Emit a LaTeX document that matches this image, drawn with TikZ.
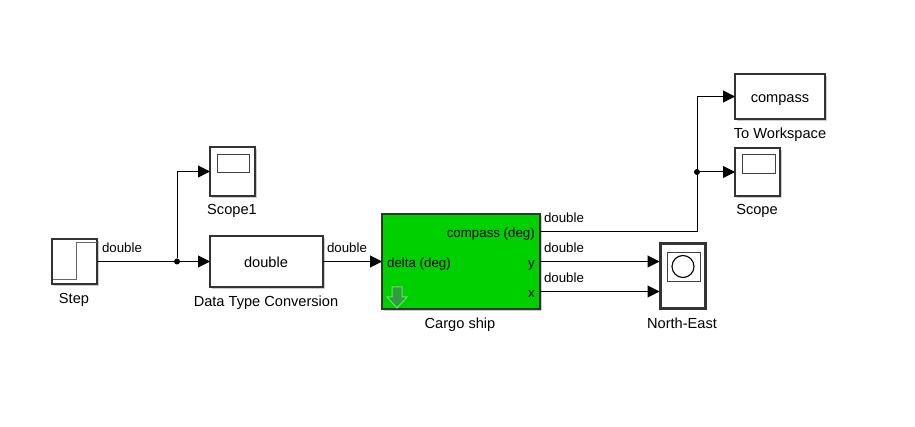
\documentclass[tikz,border=0pt]{standalone}
\usepackage{fontspec}
\setmainfont{Liberation Sans}
\usetikzlibrary{arrows.meta,shadows}
\definecolor{shipgreen}{HTML}{00D000}
\definecolor{downgreen}{HTML}{2F9E40}
\tikzset{
  block/.style={draw=black!80, line width=1.2pt, fill=white, inner sep=0pt, outer sep=0pt,
    drop shadow={shadow xshift=1.6pt, shadow yshift=-1.6pt, fill=black!40}},
  lbl/.style={font=\fontsize{14.6}{16}\selectfont, inner sep=0pt, anchor=base, yshift=-.7pt},
  txt/.style={font=\fontsize{13.3}{15}\selectfont, inner sep=0pt, anchor=base, yshift=-.7pt},
  sig/.style={line width=1pt, -{Triangle[length=12pt,width=12pt]}},
  wire/.style={line width=1pt},
  dot/.style={circle, fill=black, inner sep=0pt, minimum size=6pt},
}
\begin{document}
\begin{tikzpicture}[x=1pt,y=-1pt]
  \useasboundingbox (0,0) rectangle (915,427);
  % blocks
  \node[block, minimum width=45pt, minimum height=45pt] (stepblk) at (74.5,261.5) {};
  \node[block, minimum width=45pt, minimum height=49pt] (scopeone) at (232.5,171.5) {};
  \node[block, minimum width=113pt, minimum height=51pt] (dtc) at (266.5,261.5) {};
  \node[block, fill=shipgreen, minimum width=158pt, minimum height=95pt] (ship) at (461,261.5) {};
  \node[block, minimum width=90pt, minimum height=45pt] (towork) at (780,96.5) {};
  \node[block, minimum width=45pt, minimum height=48pt] (scopetwo) at (757.5,172) {};
  \node[block, line width=2.6pt, minimum width=45pt, minimum height=65pt] (northeast) at (683,276) {};
  % icons
  \draw[line width=1pt, black!60] (53,280) -- (76,280) -- (76,243) -- (97,243);
  \node[draw=black!75, line width=.8pt, minimum width=32pt, minimum height=18pt, inner sep=0pt] (scopeonescr) at (233,163) {};
  \node[draw=black!75, line width=.8pt, minimum width=33pt, minimum height=19pt, inner sep=0pt] (scopetwoscr) at (758.5,163.5) {};
  \node[draw=black!75, line width=.8pt, minimum width=33pt, minimum height=29pt, inner sep=0pt] (northeastscr) at (683.5,266.5) {};
  \node[draw=black, line width=1.1pt, circle, minimum size=22pt, inner sep=0pt] (northeastdial) at (683,266.5) {};
  \draw[draw=shipgreen!60!white, line width=1pt, fill=downgreen]
    (392,287) -- (402,287) -- (402,297) -- (407,297) -- (397,308) -- (387,297) -- (392,297) -- cycle;
  % texts
  \node[lbl] (dtctxt) at (266,267) {double};
  \node[lbl] (toworktxt) at (780,102) {compass};
  \node[txt, anchor=base east] (compasstxt) at (535,237) {compass (deg)};
  \node[txt, anchor=base west] (deltatxt) at (387,267) {delta (deg)};
  \node[txt, anchor=base east] (ytxt) at (535,267) {y};
  \node[txt, anchor=base east] (xtxt) at (535,297) {x};
  \node[lbl] (steplbl) at (74,303) {Step};
  \node[lbl] (scopeonelbl) at (232,214) {Scope1};
  \node[lbl] (dtclbl) at (266,306) {Data Type Conversion};
  \node[lbl] (shiplbl) at (460,328) {Cargo ship};
  \node[lbl] (toworklbl) at (780,138) {To Workspace};
  \node[lbl] (scopetwolbl) at (757,214) {Scope};
  \node[lbl] (northeastlbl) at (682,328) {North-East};
  \node[txt] (dbla) at (122,252) {double};
  \node[txt] (dblb) at (347,252) {double};
  \node[txt] (dblc) at (564,222) {double};
  \node[txt] (dbld) at (564,252) {double};
  \node[txt] (dble) at (564,282) {double};
  % ports and junctions
  \coordinate (shipin) at (382,261.5);
  \coordinate (shipcomp) at (540,231.5);
  \coordinate (shipy) at (540,261.5);
  \coordinate (shipx) at (540,291.5);
  \coordinate (northeasty) at (659.5,261.5);
  \coordinate (northeastx) at (659.5,291.5);
  \node[dot] (juncstep) at (177,261.5) {};
  \node[dot] (junccomp) at (697,172) {};
  % connectors
  \draw[wire] (stepblk.east) -- (juncstep);
  \draw[sig] (juncstep) -- (dtc.west);
  \draw[sig] (juncstep) |- (scopeone.west);
  \draw[sig] (dtc.east) -- (shipin);
  \draw[wire] (shipcomp) -| (junccomp);
  \draw[sig] (junccomp) |- (towork.west);
  \draw[sig] (junccomp) -- (scopetwo.west);
  \draw[sig] (shipy) -- (northeasty);
  \draw[sig] (shipx) -- (northeastx);
\end{tikzpicture}
\end{document}
